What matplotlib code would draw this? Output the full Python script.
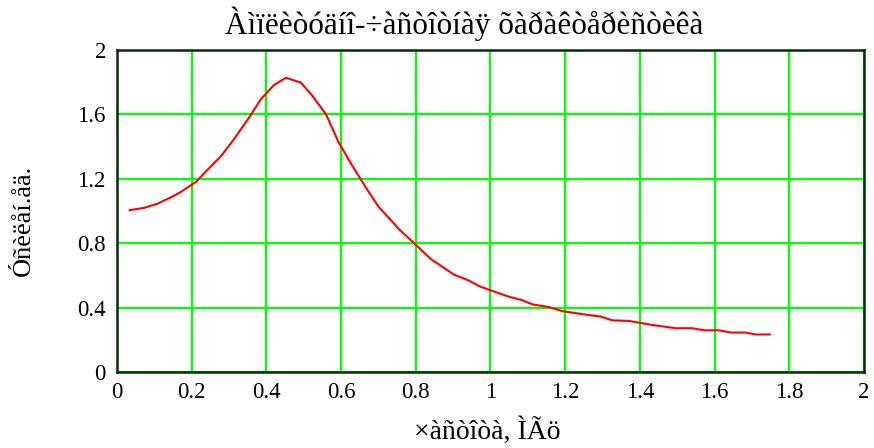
import matplotlib
matplotlib.use("Agg")
import matplotlib.pyplot as plt

title = "Àìïëèòóäíî-÷àñòîòíàÿ õàðàêòåðèñòèêà"
xlabel = "×àñòîòà, ÌÃö"
ylabel = "Óñèëåí.åä."

freq = [0.034, 0.074, 0.108, 0.142, 0.169, 0.212, 0.242, 0.279, 0.313, 0.352,
        0.385, 0.420, 0.452, 0.492, 0.523, 0.560, 0.593, 0.632, 0.668, 0.700,
        0.733, 0.755, 0.800, 0.840, 0.876, 0.902, 0.942, 0.974, 1.014, 1.050,
        1.085, 1.112, 1.157, 1.192, 1.250, 1.295, 1.326, 1.371, 1.433, 1.496,
        1.540, 1.572, 1.612, 1.643, 1.683, 1.710, 1.748]
gain = [1.005, 1.020, 1.045, 1.082, 1.115, 1.182, 1.255, 1.342, 1.445, 1.575,
        1.693, 1.782, 1.827, 1.798, 1.716, 1.599, 1.428, 1.273, 1.140, 1.027,
        0.944, 0.887, 0.790, 0.702, 0.646, 0.605, 0.568, 0.529, 0.496, 0.467,
        0.446, 0.420, 0.403, 0.378, 0.358, 0.344, 0.321, 0.317, 0.292, 0.272,
        0.272, 0.259, 0.259, 0.245, 0.245, 0.233, 0.233]

xticks = [0, 0.2, 0.4, 0.6, 0.8, 1, 1.2, 1.4, 1.6, 1.8, 2]
xticklabels = ["0", "0.2", "0.4", "0.6", "0.8", "1", "1.2", "1.4", "1.6", "1.8", "2"]
yticks = [0, 0.4, 0.8, 1.2, 1.6, 2]
yticklabels = ["0", "0.4", "0.8", "1.2", "1.6", "2"]

plt.rcParams['font.family'] = ['Liberation Serif', 'DejaVu Serif']

fig = plt.figure(figsize=(8.74, 4.48), dpi=100)
ax = fig.add_axes([117/874, (448-372)/448, (864-117)/874, (372-50)/448])

ax.plot(freq, gain, color='#ff0000', linewidth=1.5, zorder=3)
ax.set_xlim(0, 2)
ax.set_ylim(0, 2)
ax.set_xticks(xticks)
ax.set_xticklabels(xticklabels)
ax.set_yticks(yticks)
ax.set_yticklabels(yticklabels)
ax.grid(True, color='#00ff00', linewidth=1.6)
ax.tick_params(length=0, labelsize=16.5, colors='black')
ax.tick_params(axis='x', pad=7)
ax.tick_params(axis='y', pad=8)
for s in ax.spines.values():
    s.set_color('#0a2a0a')
    s.set_linewidth(1.8)

fig.text(464/874, 1 - 24/448, title, ha='center', va='center', fontsize=22.5)
fig.text(487/874, 1 - 431/448, xlabel, ha='center', va='center', fontsize=20)
fig.text(24/874, 1 - 220/448, ylabel, ha='center', va='center', rotation=90, fontsize=19)

fig.savefig("out.png", dpi=100)
